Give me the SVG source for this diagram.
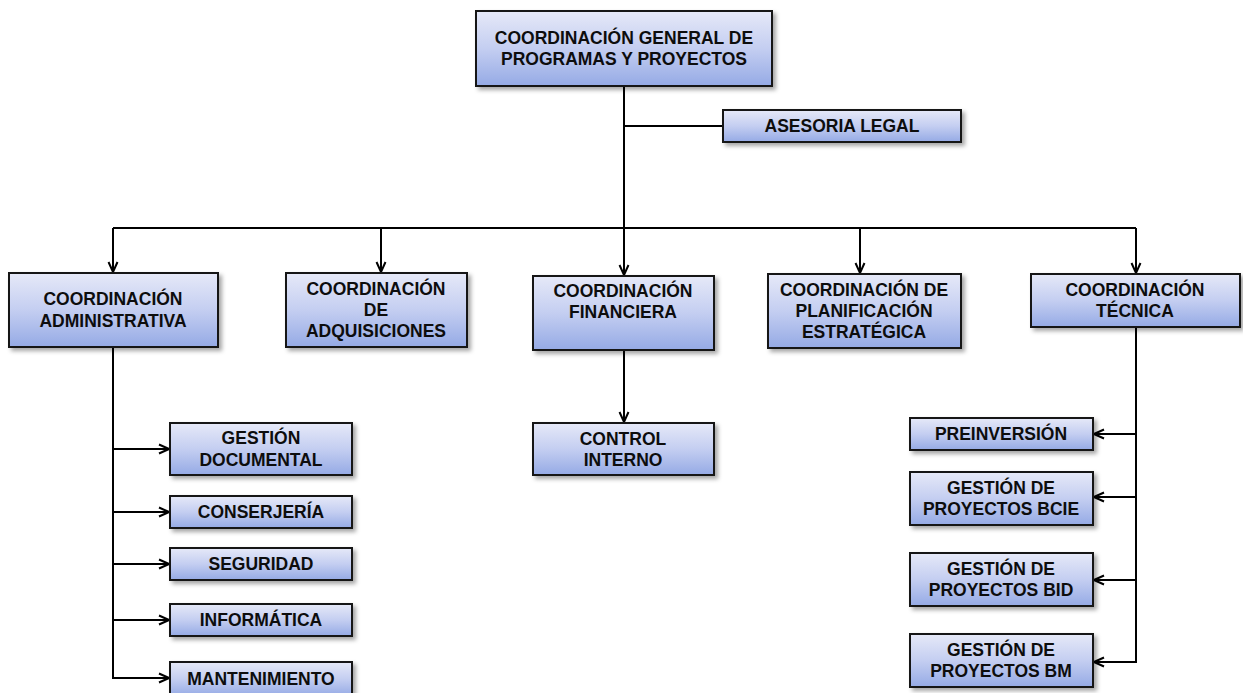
<svg xmlns="http://www.w3.org/2000/svg" width="1243" height="693" viewBox="0 0 1243 693">
  <style>
    .box { fill: url(#boxFill); stroke: #141414; stroke-width: 2; filter: url(#shadow); }
    .lbl { font-family: "Liberation Sans", Arial, sans-serif; font-weight: bold; font-size: 17.5px; fill: #0d0d0d; text-anchor: middle; }
    .ln { stroke: #000; stroke-width: 2; fill: none; }
    .arr { marker-end: url(#open); }
  </style>
  <defs>
    <linearGradient id="boxFill" x1="0" y1="0" x2="0" y2="1">
      <stop offset="0" stop-color="#e6e9f8"/>
      <stop offset="0.5" stop-color="#c4cef1"/>
      <stop offset="1" stop-color="#95aae5"/>
    </linearGradient>
    <filter id="shadow" x="-10%" y="-20%" width="125%" height="150%">
      <feDropShadow dx="3" dy="3" stdDeviation="2" flood-color="#000" flood-opacity="0.35"/>
    </filter>
    <marker id="open" viewBox="0 0 12 12" refX="11" refY="6" markerWidth="12" markerHeight="12" markerUnits="userSpaceOnUse" orient="auto">
      <path d="M1,1.5 L11,6 L1,10.5" fill="none" stroke="#000" stroke-width="2"/>
    </marker>
  </defs>

  <rect width="1243" height="693" fill="#fff"/>

  <g id="connectors">
    <line class="ln" x1="624" y1="86" x2="624" y2="228"/>
    <line class="ln" x1="624" y1="126" x2="723" y2="126"/>
    <line class="ln" x1="113" y1="228" x2="1136" y2="228"/>
    <line class="ln arr" x1="113" y1="228" x2="113" y2="272"/>
    <line class="ln arr" x1="381" y1="228" x2="381" y2="272"/>
    <line class="ln arr" x1="624" y1="228" x2="624" y2="275"/>
    <line class="ln arr" x1="860" y1="228" x2="860" y2="273"/>
    <line class="ln arr" x1="1136" y1="228" x2="1136" y2="273"/>
    <!-- administrative branch -->
    <line class="ln" x1="113" y1="347" x2="113" y2="679"/>
    <line class="ln arr" x1="113" y1="449" x2="169" y2="449"/>
    <line class="ln arr" x1="113" y1="512" x2="169" y2="512"/>
    <line class="ln arr" x1="113" y1="564" x2="169" y2="564"/>
    <line class="ln arr" x1="113" y1="620" x2="169" y2="620"/>
    <line class="ln arr" x1="113" y1="678" x2="169" y2="678"/>
    <!-- financial branch -->
    <line class="ln arr" x1="624" y1="350" x2="624" y2="422"/>
    <!-- technical branch -->
    <line class="ln" x1="1136" y1="327" x2="1136" y2="663"/>
    <line class="ln arr" x1="1136" y1="434" x2="1094" y2="434"/>
    <line class="ln arr" x1="1136" y1="497" x2="1094" y2="497"/>
    <line class="ln arr" x1="1136" y1="580" x2="1094" y2="580"/>
    <line class="ln arr" x1="1136" y1="662" x2="1094" y2="662"/>
  </g>

  <g id="general">
    <rect class="box" x="476" y="11" width="296" height="75"/>
    <text class="lbl" x="624" y="44">COORDINACIÓN GENERAL DE</text>
    <text class="lbl" x="624" y="65">PROGRAMAS Y PROYECTOS</text>
  </g>
  <g id="asesoria">
    <rect class="box" x="723" y="110" width="238" height="32"/>
    <text class="lbl" x="842" y="132">ASESORIA LEGAL</text>
  </g>

  <g id="administrativa">
    <rect class="box" x="9" y="273" width="209" height="74"/>
    <text class="lbl" x="113" y="305">COORDINACIÓN</text>
    <text class="lbl" x="113" y="327">ADMINISTRATIVA</text>
  </g>
  <g id="adquisiciones">
    <rect class="box" x="286" y="273" width="181" height="74"/>
    <text class="lbl" x="376" y="295">COORDINACIÓN</text>
    <text class="lbl" x="376" y="316">DE</text>
    <text class="lbl" x="376" y="337">ADQUISICIONES</text>
  </g>
  <g id="financiera">
    <rect class="box" x="533" y="276" width="181" height="74"/>
    <text class="lbl" x="623" y="297">COORDINACIÓN</text>
    <text class="lbl" x="623" y="318">FINANCIERA</text>
  </g>
  <g id="planificacion">
    <rect class="box" x="768" y="274" width="193" height="74"/>
    <text class="lbl" x="864" y="296">COORDINACIÓN DE</text>
    <text class="lbl" x="864" y="317">PLANIFICACIÓN</text>
    <text class="lbl" x="864" y="338">ESTRATÉGICA</text>
  </g>
  <g id="tecnica">
    <rect class="box" x="1031" y="274" width="209" height="53"/>
    <text class="lbl" x="1135" y="296">COORDINACIÓN</text>
    <text class="lbl" x="1135" y="317">TÉCNICA</text>
  </g>

  <g id="gestion-documental">
    <rect class="box" x="170" y="423" width="182" height="52"/>
    <text class="lbl" x="261" y="444">GESTIÓN</text>
    <text class="lbl" x="261" y="466">DOCUMENTAL</text>
  </g>
  <g id="conserjeria">
    <rect class="box" x="170" y="496" width="182" height="32"/>
    <text class="lbl" x="261" y="518">CONSERJERÍA</text>
  </g>
  <g id="seguridad">
    <rect class="box" x="170" y="548" width="182" height="32"/>
    <text class="lbl" x="261" y="570">SEGURIDAD</text>
  </g>
  <g id="informatica">
    <rect class="box" x="170" y="604" width="182" height="32"/>
    <text class="lbl" x="261" y="626">INFORMÁTICA</text>
  </g>
  <g id="mantenimiento">
    <rect class="box" x="170" y="662" width="182" height="34"/>
    <text class="lbl" x="261" y="685">MANTENIMIENTO</text>
  </g>

  <g id="control-interno">
    <rect class="box" x="533" y="423" width="181" height="52"/>
    <text class="lbl" x="623" y="445">CONTROL</text>
    <text class="lbl" x="623" y="466">INTERNO</text>
  </g>

  <g id="preinversion">
    <rect class="box" x="910" y="418" width="183" height="32"/>
    <text class="lbl" x="1001" y="440">PREINVERSIÓN</text>
  </g>
  <g id="proyectos-bcie">
    <rect class="box" x="910" y="472" width="183" height="53"/>
    <text class="lbl" x="1001" y="494">GESTIÓN DE</text>
    <text class="lbl" x="1001" y="515">PROYECTOS BCIE</text>
  </g>
  <g id="proyectos-bid">
    <rect class="box" x="910" y="553" width="183" height="53"/>
    <text class="lbl" x="1001" y="575">GESTIÓN DE</text>
    <text class="lbl" x="1001" y="596">PROYECTOS BID</text>
  </g>
  <g id="proyectos-bm">
    <rect class="box" x="910" y="634" width="183" height="53"/>
    <text class="lbl" x="1001" y="656">GESTIÓN DE</text>
    <text class="lbl" x="1001" y="677">PROYECTOS BM</text>
  </g>
</svg>
